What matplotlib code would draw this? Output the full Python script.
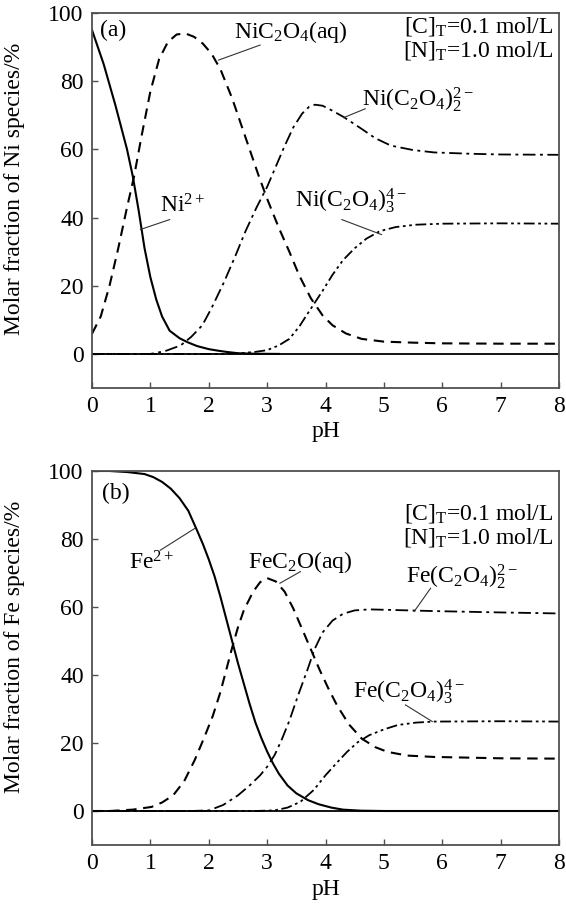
import matplotlib
matplotlib.use("Agg")
import matplotlib.pyplot as plt

plt.rcParams['font.family'] = ['Liberation Serif', 'DejaVu Serif']
plt.rcParams['mathtext.fontset'] = 'custom'
plt.rcParams['mathtext.rm'] = 'Liberation Serif'
plt.rcParams['mathtext.it'] = 'Liberation Serif'
plt.rcParams['mathtext.default'] = 'regular'

# ---- panel (a): Ni species ----
ni2_ph = [0, 0.2, 0.4, 0.6, 0.7, 0.8, 0.9, 1.0, 1.1, 1.2, 1.33, 1.5, 1.64, 1.8, 2.0, 2.14, 2.3, 2.5, 2.8, 3.2]
ni2_val = [95, 85, 73, 60, 52, 42, 31, 22.5, 16, 11, 6.8, 4.6, 3.4, 2.3, 1.4, 1.0, 0.6, 0.2, 0.05, 0]

nic_ph = [0, 0.15, 0.3, 0.45, 0.6, 0.72, 0.85, 1.0, 1.15, 1.3, 1.45, 1.6, 1.75, 1.9, 2.05, 2.2, 2.4, 2.55, 2.7,
          2.85, 3.0, 3.2, 3.38, 3.55, 3.75, 3.95, 4.12, 4.35, 4.62, 5.0, 5.5, 6.0, 7.0, 8.0]
nic_val = [5.9, 11, 20, 31, 43, 52, 64, 77, 86.5, 91.5, 93.7, 94, 93, 91, 88, 83.5, 75, 67.5, 60,
           52.5, 45.5, 37, 30, 23, 16.3, 11.3, 8.4, 6, 4.4, 3.6, 3.3, 3.1, 3.0, 3.0]

nic2_ph = [0, 1.0, 1.25, 1.52, 1.7, 1.89, 2.05, 2.26, 2.45, 2.63, 2.82, 3.0, 3.15, 3.3, 3.45, 3.6, 3.72, 3.82,
           3.95, 4.1, 4.31, 4.62, 4.85, 5.12, 5.5, 5.86, 6.5, 7.0, 8.0]
nic2_val = [0, 0, 0.8, 2.5, 5, 8.4, 13.5, 21, 28.5, 36, 43, 49, 55, 61, 66.5, 70.5, 72.5, 73.1,
            72.8, 71.5, 69.5, 66, 63.3, 61.1, 59.8, 59.1, 58.7, 58.5, 58.4]

nic3_ph = [0, 2.3, 2.6, 2.8, 3.0, 3.2, 3.38, 3.55, 3.75, 3.95, 4.12, 4.3, 4.5, 4.7, 4.93, 5.2, 5.55, 6.0, 7.0, 8.0]
nic3_val = [0, 0, 0.3, 0.6, 1.1, 2.5, 4.4, 8, 13.3, 18.5, 23.2, 27.5, 31, 33.8, 36, 37.2, 37.9, 38.2, 38.3, 38.2]

# ---- panel (b): Fe species ----
fe2_ph = [0, 0.3, 0.6, 0.9, 1.05, 1.2, 1.35, 1.5, 1.65, 1.8, 1.9, 2.0, 2.1, 2.2, 2.3, 2.4, 2.5, 2.6, 2.7, 2.8,
          2.9, 3.0, 3.1, 3.2, 3.35, 3.5, 3.7, 3.88, 4.1, 4.3, 4.6, 5.0, 8.0]
fe2_val = [100, 100, 99.7, 99.1, 98.2, 96.8, 94.8, 92, 88.3, 82.5, 78.5, 74, 69, 63, 56.5, 50, 43.5, 37.5, 31.5,
           26, 21.5, 17.5, 14, 11, 7.5, 5.2, 3.2, 2, 1, 0.4, 0.1, 0, 0]

fec_ph = [0, 0.3, 0.7, 1.02, 1.2, 1.39, 1.58, 1.76, 1.92, 2.07, 2.2, 2.3, 2.4, 2.5, 2.6, 2.76, 2.88, 3.0, 3.15,
          3.3, 3.45, 3.6, 3.75, 3.9, 4.05, 4.2, 4.4, 4.62, 4.85, 5.06, 5.4, 5.86, 7.0, 8.0]
fec_val = [0, 0, 0.4, 1.2, 2.5, 4.6, 8.8, 15, 21.5, 28, 35, 41.5, 48, 54, 59, 64.5, 67.3, 68.5, 67.5,
           64.5, 59.5, 53.5, 47.5, 41.5, 36, 31, 25.5, 21.3, 18.8, 17.4, 16.3, 15.9, 15.5, 15.4]

fec2_ph = [0, 1.7, 2.01, 2.25, 2.5, 2.7, 2.88, 3.0, 3.13, 3.25, 3.38, 3.53, 3.69, 3.81, 3.95, 4.12, 4.3, 4.5,
           4.75, 5.2, 5.86, 7.0, 8.0]
fec2_val = [0, 0, 0.2, 1.8, 4.6, 7.5, 10.5, 13, 16.5, 21, 26.5, 34, 41.5, 47.5, 52.5, 56, 58, 59,
            59.3, 59.1, 58.8, 58.4, 58.1]

fec3_ph = [0, 2.8, 3.13, 3.35, 3.57, 3.8, 4.0, 4.2, 4.37, 4.55, 4.75, 5.0, 5.24, 5.55, 5.86, 7.0, 8.0]
fec3_val = [0, 0, 0.2, 1.0, 2.7, 6.2, 10.5, 14.3, 17.4, 20.2, 22.3, 24, 25.3, 26, 26.3, 26.4, 26.3]

styles = {
    'solid': dict(ls='-', lw=1.5),
    'dash': dict(ls=(0, (5, 3.2)), lw=1.5),
    'dashdot': dict(ls=(0, (7, 2.5, 1.6, 2.5)), lw=1.3),
    'dashdotdot': dict(ls=(0, (6, 2, 1.5, 2, 1.5, 2)), lw=1.3),
}

panels = [
    dict(tag='(a)', ylabel='Molar fraction of Ni species/%',
         series=[(ni2_ph, ni2_val, 'solid'), (nic_ph, nic_val, 'dash'),
                 (nic2_ph, nic2_val, 'dashdot'), (nic3_ph, nic3_val, 'dashdotdot')],
         labels=[('Ni$^{2+}$', (1.55, 43.5), (1.33, 39.4), (0.83, 36.5)),
                 ('NiC$_2$O$_4$(aq)', (3.41, 94.3), (2.88, 90.6), (2.17, 86.2)),
                 ('Ni(C$_2$O$_4$)$_2^{2-}$', (5.58, 74.5), (4.68, 71.9), (4.31, 69.3)),
                 ('Ni(C$_2$O$_4$)$_3^{4-}$', (4.43, 45.0), (4.28, 39.4), (4.96, 35.0))],
         tagpos=(0.37, 95.0), conc_y=(96.0, 89.0), rect=[92, 13, 559, 388]),
    dict(tag='(b)', ylabel='Molar fraction of Fe species/%',
         series=[(fe2_ph, fe2_val, 'solid'), (fec_ph, fec_val, 'dash'),
                 (fec2_ph, fec2_val, 'dashdot'), (fec3_ph, fec3_val, 'dashdotdot')],
         labels=[('Fe$^{2+}$', (1.02, 73.0), (1.17, 76.7), (1.76, 83.1)),
                 ('FeC$_2$O(aq)', (3.57, 73.3), (3.57, 70.4), (3.22, 67.0)),
                 ('Fe(C$_2$O$_4$)$_2^{2-}$', (6.33, 69.0), (5.8, 65.5), (5.52, 58.7)),
                 ('Fe(C$_2$O$_4$)$_3^{4-}$', (5.43, 35.0), (5.37, 31.2), (5.83, 26.3))],
         tagpos=(0.41, 93.3), conc_y=(87.5, 80.5), rect=[92, 471, 559, 845]),
]

W, H = 566, 907
fig = plt.figure(figsize=(W / 100, H / 100), dpi=100)
fs = 17
spine_col = '#505050'

for p in panels:
    x0, y0, x1, y1 = p['rect']
    ax = fig.add_axes([x0 / W, 1 - y1 / H, (x1 - x0) / W, (y1 - y0) / H])
    ax.axhline(0, color='black', lw=1.3, zorder=1)
    for xs, ys, st in p['series']:
        ax.plot(xs, ys, color='black', **styles[st], zorder=2)
    for text, tpos, l0, l1 in p['labels']:
        ax.text(tpos[0], tpos[1], text, fontsize=fs, ha='center', va='center')
        ax.plot([l0[0], l1[0]], [l0[1], l1[1]], color='#333333', lw=0.8)
    ax.text(p['tagpos'][0], p['tagpos'][1], p['tag'], fontsize=fs, ha='center', va='center')
    ax.text(7.91, p['conc_y'][0], '[C]$_T$=0.1 mol/L', fontsize=fs, ha='right', va='center')
    ax.text(7.91, p['conc_y'][1], '[N]$_T$=1.0 mol/L', fontsize=fs, ha='right', va='center')

    ax.set_xlim(0, 8)
    ax.set_ylim(-10, 100)
    ax.set_xticks(range(0, 9))
    ax.set_yticks(range(0, 101, 20))
    ax.tick_params(direction='in', length=4, width=1.0, color=spine_col, labelsize=fs, pad=6)
    for s in ax.spines.values():
        s.set_color(spine_col)
        s.set_linewidth(1.3)
    ax.set_xlabel('pH', fontsize=fs, labelpad=3)
    ax.set_ylabel(p['ylabel'], fontsize=fs)
    ax.yaxis.set_label_coords(-0.143, 0.53)

fig.savefig('out.png', dpi=100)
